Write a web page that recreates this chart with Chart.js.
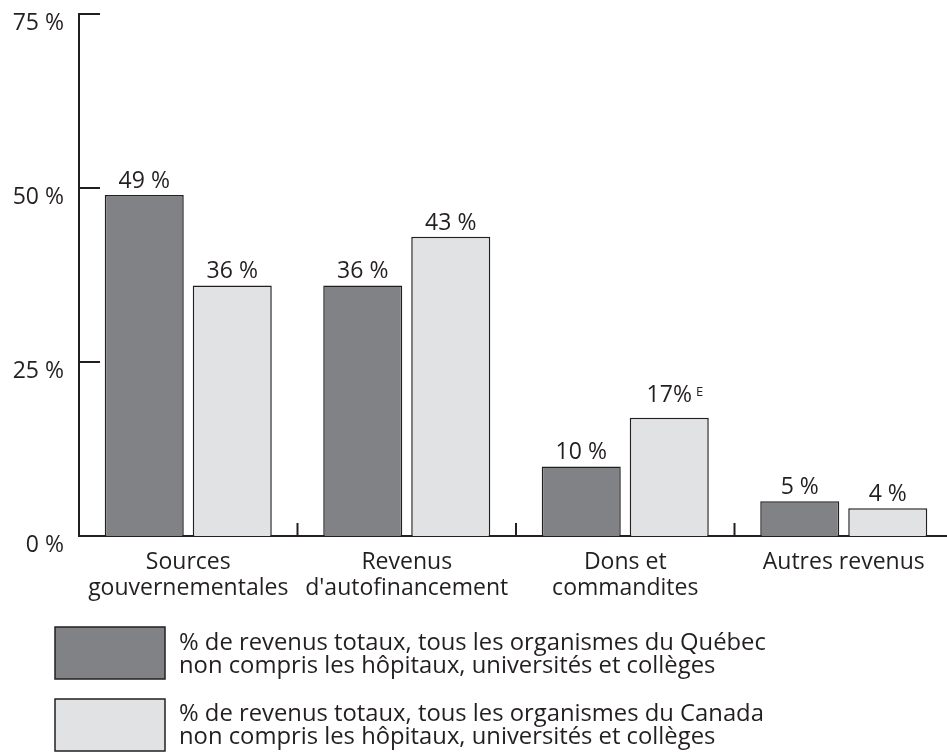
<!DOCTYPE html>
<html>
<head>
<meta charset="utf-8">
<script src="https://cdn.jsdelivr.net/npm/chart.js@4.4.1/dist/chart.umd.min.js"></script>
<style>
    html, body { margin: 0; padding: 0; background: #fff; overflow: hidden; }
    #chart { display: block; }
</style>
</head>
<body>
<canvas id="chart" width="953" height="756" style="width:953px;height:756px"></canvas>
<script>
const categories = [
    ['Sources', 'gouvernementales'],
    ['Revenus', "d'autofinancement"],
    ['Dons et', 'commandites'],
    ['Autres revenus']
];
const quebecValues = [49, 36, 10, 5];
const canadaValues = [36, 43, 17, 4];
const canadaNotes = ['', '', 'E', ''];
const seriesLabels = [
    ['% de revenus totaux, tous les organismes du Québec', 'non compris les hôpitaux, universités et collèges'],
    ['% de revenus totaux, tous les organismes du Canada', 'non compris les hôpitaux, universités et collèges']
];
const yTicks = [0, 25, 50, 75];

const INK = '#231f20';
const FONT = '"Open Sans", sans-serif';

function valueText(v, note) {
    return note ? v + '%' : v + ' %';
}

// petites marques vers l'intérieur + séparateurs de catégories + étiquettes + légende
const decorPlugin = {
    id: 'decor',
    afterDatasetsDraw(chart) {
        const ctx = chart.ctx;
        const area = chart.chartArea;
        const x = chart.scales.x;
        const y = chart.scales.y;
        ctx.save();
        ctx.strokeStyle = INK;
        ctx.lineWidth = 2;

        yTicks.forEach(t => {
            if (t === 0) return;
            const py = y.getPixelForValue(t);
            ctx.beginPath();
            ctx.moveTo(area.left, py);
            ctx.lineTo(area.left + 21, py);
            ctx.stroke();
        });

        for (let i = 1; i < categories.length; i++) {
            const px = (x.getPixelForValue(i - 1) + x.getPixelForValue(i)) / 2;
            ctx.beginPath();
            ctx.moveTo(px, area.bottom);
            ctx.lineTo(px, area.bottom - 13);
            ctx.stroke();
        }

        // valeurs au-dessus des barres
        ctx.fillStyle = INK;
        ctx.textBaseline = 'alphabetic';
        chart.data.datasets.forEach((ds, di) => {
            const meta = chart.getDatasetMeta(di);
            meta.data.forEach((bar, i) => {
                const note = ds.notes ? ds.notes[i] : '';
                const txt = valueText(ds.data[i], note);
                ctx.font = '23px ' + FONT;
                ctx.textAlign = 'center';
                const by = bar.y - (note ? 16 : 7);
                ctx.fillText(txt, bar.x, by);
                if (note) {
                    const w = ctx.measureText(txt).width;
                    ctx.font = '13px ' + FONT;
                    ctx.textAlign = 'left';
                    ctx.fillText(note, bar.x + w / 2 + 4, by - 6);
                }
            });
        });

        // légende
        chart.data.datasets.forEach((ds, di) => {
            const top = 627 + di * 72;
            ctx.fillStyle = ds.backgroundColor;
            ctx.fillRect(55, top, 110, 52);
            ctx.lineWidth = 1.5;
            ctx.strokeRect(55, top, 110, 52);
            ctx.fillStyle = INK;
            ctx.font = '23.8px ' + FONT;
            ctx.textAlign = 'left';
            ctx.textBaseline = 'middle';
            ds.label.forEach((line, li) => {
                ctx.fillText(line, 179, top + 16 - di + li * 23);
            });
        });
        ctx.restore();
    }
};

new Chart(document.getElementById('chart'), {
    type: 'bar',
    data: {
        labels: categories,
        datasets: [
            {
                label: seriesLabels[0],
                data: quebecValues,
                backgroundColor: '#808285',
                borderColor: INK,
                borderWidth: 1.5,
                categoryPercentage: 0.8055,
                barPercentage: 0.898
            },
            {
                label: seriesLabels[1],
                data: canadaValues,
                notes: canadaNotes,
                backgroundColor: '#e1e2e4',
                borderColor: INK,
                borderWidth: 1.5,
                categoryPercentage: 0.8055,
                barPercentage: 0.898
            }
        ]
    },
    options: {
        responsive: false,
        animation: false,
        layout: { padding: { top: 14, left: 0, right: 0, bottom: 0 } },
        plugins: {
            legend: { display: false },
            tooltip: { enabled: false }
        },
        scales: {
            x: {
                grid: { display: false, drawTicks: false },
                border: { display: true, color: INK, width: 2 },
                ticks: {
                    color: INK,
                    font: { family: FONT, size: 23, lineHeight: 1.13 },
                    padding: 13,
                    maxRotation: 0,
                    autoSkip: false
                },
                afterFit(scale) {
                    scale.height = 220;
                    scale.paddingLeft = 0;
                    scale.paddingRight = 0;
                }
            },
            y: {
                min: 0,
                max: 75,
                afterBuildTicks(scale) { scale.ticks = yTicks.map(v => ({ value: v })); },
                grid: { display: false, drawTicks: false },
                border: { display: true, color: INK, width: 2 },
                ticks: {
                    color: INK,
                    font: { family: FONT, size: 23 },
                    padding: 15,
                    labelOffset: 9,
                    callback: v => v + ' %'
                },
                afterFit(scale) {
                    scale.width = 79;
                    scale.paddingTop = 0;
                    scale.paddingBottom = 0;
                }
            }
        }
    },
    plugins: [decorPlugin]
});
</script>
</body>
</html>
